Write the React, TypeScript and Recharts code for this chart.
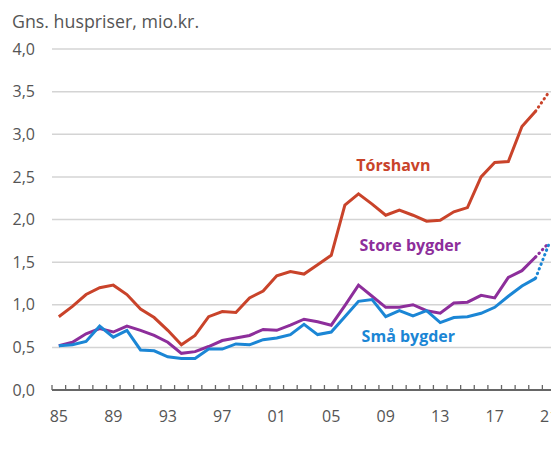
import {
  CartesianGrid,
  Line,
  LineChart,
  ReferenceDot,
  XAxis,
  YAxis,
} from 'recharts';

const years = Array.from({ length: 37 }, (_, i) => 1985 + i);

// 1985 - 2020, mio. kr.
const torshavn = [
  0.86, 0.98, 1.12, 1.2, 1.23, 1.12, 0.95, 0.85, 0.7, 0.53,
  0.64, 0.86, 0.92, 0.91, 1.08, 1.16, 1.34, 1.39, 1.36, 1.47,
  1.58, 2.17, 2.3, 2.18, 2.05, 2.11, 2.05, 1.98, 1.99, 2.09,
  2.14, 2.5, 2.67, 2.68, 3.09, 3.27,
];
const storeBygder = [
  0.52, 0.56, 0.66, 0.72, 0.68, 0.75, 0.7, 0.64, 0.56, 0.43,
  0.45, 0.51, 0.58, 0.61, 0.64, 0.71, 0.7, 0.76, 0.83, 0.8,
  0.76, 0.99, 1.23, 1.1, 0.97, 0.97, 1.0, 0.93, 0.9, 1.02,
  1.03, 1.11, 1.08, 1.32, 1.4, 1.56,
];
const smaBygder = [
  0.52, 0.53, 0.57, 0.75, 0.62, 0.7, 0.47, 0.46, 0.39, 0.37,
  0.37, 0.48, 0.48, 0.54, 0.53, 0.59, 0.61, 0.65, 0.77, 0.65,
  0.68, 0.86, 1.04, 1.06, 0.86, 0.93, 0.87, 0.93, 0.79, 0.85,
  0.86, 0.9, 0.97, 1.1, 1.22, 1.31,
];

// 2021 estimate (dotted)
const estimate2021 = { tor: 3.5, store: 1.73, sma: 1.72 };

const yTicks = [0, 0.5, 1, 1.5, 2, 2.5, 3, 3.5, 4];
const labelYears = [1985, 1989, 1993, 1997, 2001, 2005, 2009, 2013, 2017, 2021];
// year boundaries get a small tick mark, label years get text
const tickBounds = Array.from({ length: 38 }, (_, i) => 1984.5 + i);
const xTicks = [...tickBounds, ...labelYears].sort((a, b) => a - b);

const RED = '#c9432a';
const PURPLE = '#8d2e9b';
const BLUE = '#1b86d5';
const GREY = '#555555';
const AXIS = '#666666';

const seriesLabels = [
  { text: 'Tórshavn', year: 2009.56, value: 2.63, color: RED },
  { text: 'Store bygder', year: 2010.8, value: 1.7, color: PURPLE },
  { text: 'Små bygder', year: 2010.66, value: 0.635, color: BLUE },
];

const last = torshavn.length - 1;
const data = years.map((year, i) => ({
  year,
  tor: i <= last ? torshavn[i] : null,
  store: i <= last ? storeBygder[i] : null,
  sma: i <= last ? smaBygder[i] : null,
  torEst: i === last ? torshavn[last] : i === last + 1 ? estimate2021.tor : null,
  storeEst: i === last ? storeBygder[last] : i === last + 1 ? estimate2021.store : null,
  smaEst: i === last ? smaBygder[last] : i === last + 1 ? estimate2021.sma : null,
}));

const dotted = {
  strokeWidth: 3,
  strokeDasharray: '0.5 4.5',
  strokeLinecap: 'round' as const,
};

const YearTick = ({ x, y, payload }: any) => {
  const v = payload.value;
  if (!Number.isInteger(v)) {
    return <line x1={x} x2={x} y1={y} y2={y - 5} stroke={AXIS} strokeWidth={1.3} />;
  }
  return (
    <text x={x} y={y + 21} dy="0.71em" textAnchor="middle" fill={GREY} fontSize={16}>
      {String(v).slice(2)}
    </text>
  );
};

export default function App() {
  return (
    <div
      style={{
        position: 'fixed',
        left: 0,
        top: 0,
        width: 551,
        height: 452,
        overflow: 'hidden',
        background: '#fff',
        fontFamily: "'Open Sans', sans-serif",
      }}
    >
      <div
        style={{
          position: 'absolute',
          left: 12,
          top: 9,
          fontSize: 17.8,
          color: GREY,
          lineHeight: 'normal',
        }}
      >
        Gns. huspriser, mio.kr.
      </div>
      <LineChart
        width={556}
        height={452}
        data={data}
        margin={{ top: 49, right: 0, bottom: 61, left: 0 }}
      >
        <CartesianGrid
          vertical={false}
          stroke="#d4d4d4"
          strokeWidth={1.5}
        />
        <XAxis
          type="number"
          dataKey="year"
          domain={[1984.5, 2021.5]}
          ticks={xTicks}
          interval={0}
          height={1}
          axisLine={{ stroke: AXIS, strokeWidth: 2 }}
          tickLine={false}
          tickSize={0}
          tickMargin={0}
          tick={<YearTick />}
        />
        <YAxis
          type="number"
          domain={[0, 4]}
          ticks={yTicks}
          interval={0}
          width={52}
          axisLine={false}
          tickLine={false}
          tickSize={6}
          tickMargin={11}
          tickFormatter={(v) => v.toFixed(1).replace('.', ',')}
          tick={{ fill: GREY, fontSize: 16 }}
        />
        <Line type="linear" dataKey="tor" stroke={RED} strokeWidth={3} dot={false} isAnimationActive={false} />
        <Line type="linear" dataKey="store" stroke={PURPLE} strokeWidth={3} dot={false} isAnimationActive={false} />
        <Line type="linear" dataKey="sma" stroke={BLUE} strokeWidth={3} dot={false} isAnimationActive={false} />
        <Line type="linear" dataKey="torEst" stroke={RED} {...dotted} dot={false} isAnimationActive={false} />
        <Line type="linear" dataKey="storeEst" stroke={PURPLE} {...dotted} dot={false} isAnimationActive={false} />
        <Line type="linear" dataKey="smaEst" stroke={BLUE} {...dotted} dot={false} isAnimationActive={false} />
        {seriesLabels.map((l) => (
          <ReferenceDot
            key={l.text}
            x={l.year}
            y={l.value}
            r={0}
            fill="none"
            stroke="none"
            label={{
              value: l.text,
              position: 'center',
              fill: l.color,
              fontSize: 16,
              fontWeight: 700,
            }}
          />
        ))}
      </LineChart>
    </div>
  );
}
